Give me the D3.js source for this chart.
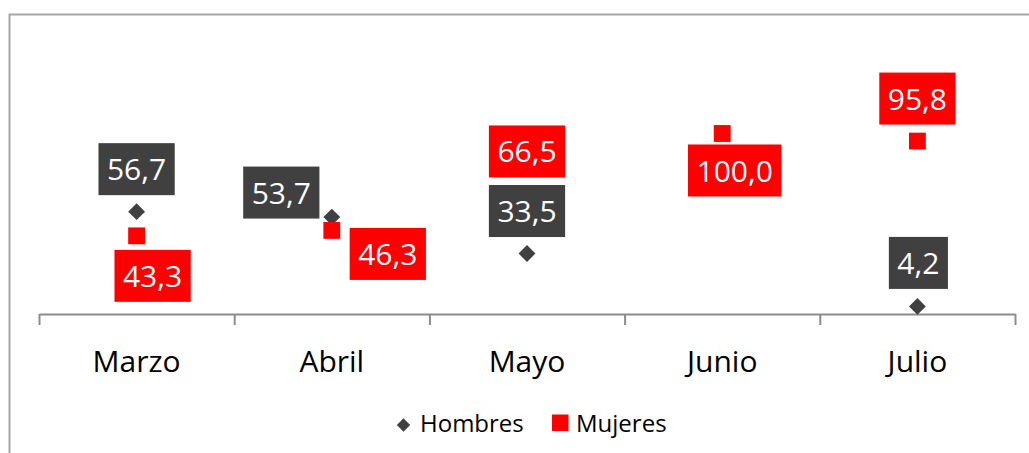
<!DOCTYPE html>
<html>
<head>
<meta charset="utf-8">
<script src="https://cdn.jsdelivr.net/npm/d3@7"></script>
<style>
  body { margin: 0; background: #fff; }
  svg { display: block; font-family: "Open Sans", sans-serif; }
</style>
</head>
<body>
<svg width="1029" height="453"></svg>
<script>
const months = ["Marzo", "Abril", "Mayo", "Junio", "Julio"];
const hombres = [56.7, 53.7, 33.5, null, 4.2];
const mujeres = [43.3, 46.3, 66.5, 100.0, 95.8];

// where each data label box sits relative to its marker (box centre offset)
const hombresLabelOffset = [[0, -42.5], [-50.5, -24.5], [0, -42.5], [0, 0], [1, -43.5]];
const mujeresLabelOffset = [[16, 40], [56, 23.5], [0, -42.5], [12.5, 37], [0, -42.5]];

const svg = d3.select("svg");
const width = 1029;
const height = 453;
const dark = "#404040";
const red = "#ff0000";
const fmt = v => v.toFixed(1).replace(".", ",");

// chart border
svg.append("rect")
  .attr("x", 9.5)
  .attr("y", 14.5)
  .attr("width", 1040)
  .attr("height", 460)
  .attr("fill", "none")
  .attr("stroke", "#a6a6a6")
  .attr("stroke-width", 2);

const xScale = d3.scaleBand()
  .domain(months)
  .range([39, 1015]);

const yScale = d3.scaleLinear()
  .domain([0, 100])
  .range([314, 133.5]);

// boundary ticks between categories
const edgeScale = d3.scaleLinear().domain([0, months.length]).range([39, 1015]);
const tickAxis = svg.append("g")
  .attr("transform", "translate(0,314)")
  .call(d3.axisBottom(edgeScale).ticks(months.length).tickSize(11).tickSizeOuter(0).tickFormat(""));
tickAxis.select(".domain").attr("stroke", "#8c8c8c").attr("stroke-width", 2);
tickAxis.selectAll(".tick line").attr("stroke", "#8c8c8c").attr("stroke-width", 2);

// category labels
const labelAxis = svg.append("g")
  .attr("transform", "translate(0,314)")
  .call(d3.axisBottom(xScale).tickSize(0).tickPadding(37));
labelAxis.select(".domain").remove();
labelAxis.selectAll("text")
  .attr("font-family", "'Open Sans', sans-serif")
  .attr("font-size", 30)
  .attr("fill", "#000");

const cx = d => xScale(d) + xScale.bandwidth() / 2;

const series = [
  { name: "Hombres", values: hombres, offsets: hombresLabelOffset, color: dark, shape: d3.symbolDiamond2, size: 19 },
  { name: "Mujeres", values: mujeres, offsets: mujeresLabelOffset, color: red, shape: d3.symbolSquare2, size: 19 }
];

function markerPath(shape, size) {
  // d3 symbolSquare2 / symbolDiamond2 side ≈ sqrt(area) * 1 for square
  return d3.symbol().type(shape).size(size * size)();
}

// markers
series.forEach(s => {
  const pts = months.map((m, i) => ({ m, v: s.values[i] })).filter(p => p.v != null);
  svg.append("g").selectAll("path")
    .data(pts)
    .enter()
    .append("path")
    .attr("d", s.shape === d3.symbolSquare2 ? markerPath(s.shape, s.size) : d3.symbol().type(s.shape).size(s.size * s.size * 0.5)())
    .attr("transform", p => `translate(${cx(p.m)},${yScale(p.v)})`)
    .attr("fill", s.color);
});

// data labels (boxes drawn over markers, Hombres first like the source)
series.forEach(s => {
  months.forEach((m, i) => {
    const v = s.values[i];
    if (v == null) return;
    const [dx, dy] = s.offsets[i];
    const bx = cx(m) + dx;
    const by = yScale(v) + dy;
    const g = svg.append("g");
    const rect = g.append("rect").attr("fill", s.color);
    const t = g.append("text")
      .attr("x", bx)
      .attr("y", by + 11)
      .attr("text-anchor", "middle")
      .attr("font-size", 30)
      .attr("fill", "#fff")
      .text(fmt(v));
    const w = t.node().getComputedTextLength() + 17;
    rect.attr("x", bx - w / 2)
      .attr("y", by - 26)
      .attr("width", w)
      .attr("height", 52);
  });
});

// legend
const legend = svg.append("g");
legend.append("path")
  .attr("d", d3.symbol().type(d3.symbolDiamond2).size(15 * 15 * 0.5)())
  .attr("transform", "translate(403.5,425)")
  .attr("fill", dark);
legend.append("text")
  .attr("x", 420)
  .attr("y", 432)
  .attr("font-size", 24)
  .attr("fill", "#000")
  .text("Hombres");
legend.append("rect")
  .attr("x", 552)
  .attr("y", 414.5)
  .attr("width", 16.5)
  .attr("height", 16.5)
  .attr("fill", red);
legend.append("text")
  .attr("x", 576)
  .attr("y", 432)
  .attr("font-size", 24)
  .attr("fill", "#000")
  .text("Mujeres");
</script>
</body>
</html>
